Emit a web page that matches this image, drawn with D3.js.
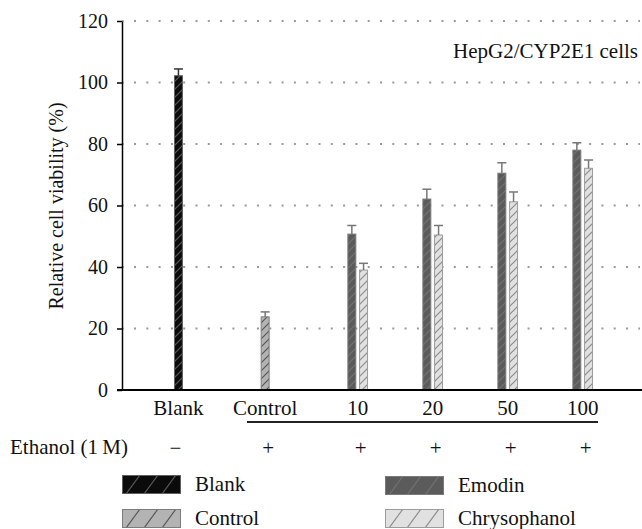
<!DOCTYPE html>
<html>
<head>
<meta charset="utf-8">
<script src="https://cdn.jsdelivr.net/npm/d3@7/dist/d3.min.js"></script>
<style>
  html, body { margin: 0; padding: 0; background: #fff; }
  svg { display: block; }
  svg text { font-family: "Liberation Serif", "Times New Roman", Times, "DejaVu Serif", serif; }
</style>
</head>
<body>
<svg id="chart" width="642" height="529"></svg>
<script>
// ---------------- data ----------------
const categories = ["Blank", "Control", "10", "20", "50", "100"];
const seriesNames = ["Blank", "Control", "Emodin", "Chrysophanol"];
const blankMeans = [102.2];
const blankErrors = [2.2];
const controlMeans = [23.8];
const controlErrors = [1.6];
const doses = ["10", "20", "50", "100"];
const emodinMeans = [50.7, 62.1, 70.5, 78.0];
const emodinErrors = [2.8, 3.2, 3.4, 2.4];
const chrysMeans = [39.0, 50.4, 61.2, 72.1];
const chrysErrors = [2.2, 3.1, 3.2, 2.7];
const ethanolSigns = ["\u2212", "+", "+", "+", "+", "+"];
const yTicks = [0, 20, 40, 60, 80, 100, 120];
const yTitle = "Relative cell viability (%)";
const cellLabel = "HepG2/CYP2E1 cells";
const ethanolLabel = "Ethanol (1\u2009M)";

const FONT = "'Liberation Serif', 'Times New Roman', Times, 'DejaVu Serif', serif";

// ---------------- styles ----------------
const styles = {
  Blank:        { fill: "#0b0b0b", hatch: "#5a5a5a", stroke: "#606060", err: "#333" },
  Control:      { fill: "#b3b3b3", hatch: "#555555", stroke: "#7d7d7d", err: "#777" },
  Emodin:       { fill: "#5b5b5b", hatch: "#737373", stroke: "#7a7a7a", err: "#777" },
  Chrysophanol: { fill: "#e1e1e1", hatch: "#8a8a8a", stroke: "#9c9c9c", err: "#777" }
};

const records = [];
blankMeans.forEach((m, i) => records.push({ cat: "Blank", series: "Blank", mean: m, err: blankErrors[i] }));
controlMeans.forEach((m, i) => records.push({ cat: "Control", series: "Control", mean: m, err: controlErrors[i] }));
doses.forEach((d, i) => {
  records.push({ cat: d, series: "Emodin", mean: emodinMeans[i], err: emodinErrors[i] });
  records.push({ cat: d, series: "Chrysophanol", mean: chrysMeans[i], err: chrysErrors[i] });
});

const svg = d3.select("#chart");
const axisX = 122, plotTop = 21, plotBottom = 390, plotRight = 642;

const y = d3.scaleLinear().domain([0, 120]).range([plotBottom, plotTop]);
const x0 = d3.scaleBand().domain(categories).range([158.5, 608.5]);
const half = 23.4;
const x1 = d3.scaleBand().domain(seriesNames)
  .range([x0.bandwidth() / 2 - half, x0.bandwidth() / 2 + half])
  .paddingInner(0.32).paddingOuter(0.16);

// ---------------- patterns ----------------
const defs = svg.append("defs");
seriesNames.forEach(s => {
  const st = styles[s];
  const p = defs.append("pattern")
    .attr("id", "bar-" + s).attr("patternUnits", "userSpaceOnUse")
    .attr("width", 8).attr("height", 8);
  p.append("rect").attr("width", 8).attr("height", 8).attr("fill", st.fill);
  p.append("path").attr("d", "M-2,2 L2,-2 M0,8 L8,0 M6,10 L10,6")
    .attr("stroke", st.hatch).attr("stroke-width", 1.1);
});

// ---------------- gridlines ----------------
svg.append("g").selectAll("line")
  .data(yTicks.filter(t => t > 0))
  .join("line")
  .attr("x1", axisX).attr("x2", 640)
  .attr("y1", d => y(d)).attr("y2", d => y(d))
  .attr("stroke", "#9a9a9a").attr("stroke-width", 2)
  .attr("stroke-dasharray", "2 10.3").attr("stroke-dashoffset", 0.3);

// ---------------- bars ----------------
const barG = svg.append("g");
barG.selectAll("rect")
  .data(records)
  .join("rect")
  .attr("x", d => x0(d.cat) + x1(d.series))
  .attr("y", d => y(d.mean))
  .attr("width", x1.bandwidth())
  .attr("height", d => y(0) - y(d.mean))
  .attr("fill", d => "url(#bar-" + d.series + ")")
  .attr("stroke", d => styles[d.series].stroke)
  .attr("stroke-width", 1);

// error bars (upper only)
const errG = svg.append("g");
records.forEach(d => {
  const cx = x0(d.cat) + x1(d.series) + x1.bandwidth() / 2;
  const c = styles[d.series].err;
  errG.append("line").attr("x1", cx).attr("x2", cx)
    .attr("y1", y(d.mean)).attr("y2", y(d.mean + d.err))
    .attr("stroke", c).attr("stroke-width", 1.5);
  errG.append("line").attr("x1", cx - 4.5).attr("x2", cx + 4.5)
    .attr("y1", y(d.mean + d.err)).attr("y2", y(d.mean + d.err))
    .attr("stroke", c).attr("stroke-width", 1.5);
});

// ---------------- axes ----------------
const yAxis = svg.append("g")
  .attr("transform", `translate(${axisX},0)`)
  .call(d3.axisLeft(y).tickValues(yTicks).tickSize(5).tickSizeOuter(0).tickPadding(9));
yAxis.attr("font-family", null).attr("font-size", null);
yAxis.select(".domain").attr("stroke", "#000").attr("stroke-width", 1.5);
yAxis.selectAll(".tick line").attr("stroke", "#000").attr("stroke-width", 1.5);
yAxis.selectAll(".tick text")
  .style("font-family", FONT).attr("font-size", 20).attr("fill", "#111");

svg.append("line")
  .attr("x1", axisX - 5).attr("x2", plotRight)
  .attr("y1", y(0)).attr("y2", y(0))
  .attr("stroke", "#000").attr("stroke-width", 2);

svg.append("text")
  .attr("transform", `translate(63,206) rotate(-90)`)
  .attr("text-anchor", "middle").attr("font-size", 20).attr("fill", "#111")
  .style("font-family", FONT)
  .text(yTitle);

svg.append("text")
  .attr("x", 638).attr("y", 58).attr("text-anchor", "end")
  .attr("font-size", 21).attr("fill", "#111")
  .style("font-family", FONT)
  .text(cellLabel);

// ---------------- category labels ----------------
const catCenter = c => {
  const rs = records.filter(r => r.cat === c);
  return d3.mean(rs, r => x0(r.cat) + x1(r.series) + x1.bandwidth() / 2);
};
svg.append("g").selectAll("text")
  .data(categories)
  .join("text")
  .attr("x", d => catCenter(d)).attr("y", 415)
  .attr("text-anchor", "middle").attr("font-size", 21).attr("fill", "#111")
  .style("font-family", FONT)
  .text(d => d);

// underline for ethanol-treated groups
svg.append("line")
  .attr("x1", 247).attr("x2", 598)
  .attr("y1", 422).attr("y2", 422)
  .attr("stroke", "#222").attr("stroke-width", 2);

svg.append("text")
  .attr("x", 10).attr("y", 454).attr("font-size", 21).attr("fill", "#111")
  .style("font-family", FONT)
  .text(ethanolLabel);

svg.append("g").selectAll("text")
  .data(categories)
  .join("text")
  .attr("x", (d, i) => catCenter(d) + (i === 0 ? -3 : 3)).attr("y", 455)
  .attr("text-anchor", "middle").attr("font-size", 21).attr("fill", "#111")
  .style("font-family", FONT)
  .text((d, i) => ethanolSigns[i]);

// ---------------- legend ----------------
const legendItems = [
  { name: "Blank", x: 122, y: 475 },
  { name: "Control", x: 122, y: 509 },
  { name: "Emodin", x: 385, y: 476 },
  { name: "Chrysophanol", x: 385, y: 509 }
];
const sw = 59, sh = 19;
legendItems.forEach((it, i) => {
  const st = styles[it.name];
  const clipId = "lg-clip-" + i;
  defs.append("clipPath").attr("id", clipId)
    .append("rect").attr("x", it.x).attr("y", it.y).attr("width", sw).attr("height", sh);
  const g = svg.append("g");
  g.append("rect").attr("x", it.x).attr("y", it.y).attr("width", sw).attr("height", sh)
    .attr("fill", st.fill);
  const hg = g.append("g").attr("clip-path", `url(#${clipId})`);
  d3.range(-1, 5).forEach(k => {
    const bx = it.x + 4 + k * 18;
    hg.append("line").attr("x1", bx).attr("y1", it.y + sh)
      .attr("x2", bx + 14).attr("y2", it.y)
      .attr("stroke", st.hatch).attr("stroke-width", 1.2);
  });
  g.append("rect").attr("x", it.x + 0.5).attr("y", it.y + 0.5).attr("width", sw - 1).attr("height", sh - 1)
    .attr("fill", "none").attr("stroke", st.stroke).attr("stroke-width", 1);
  g.append("text").attr("x", it.x + 73).attr("y", it.y + 16)
    .attr("font-size", 21).attr("fill", "#111")
    .style("font-family", FONT)
    .text(it.name);
});
</script>
</body>
</html>
